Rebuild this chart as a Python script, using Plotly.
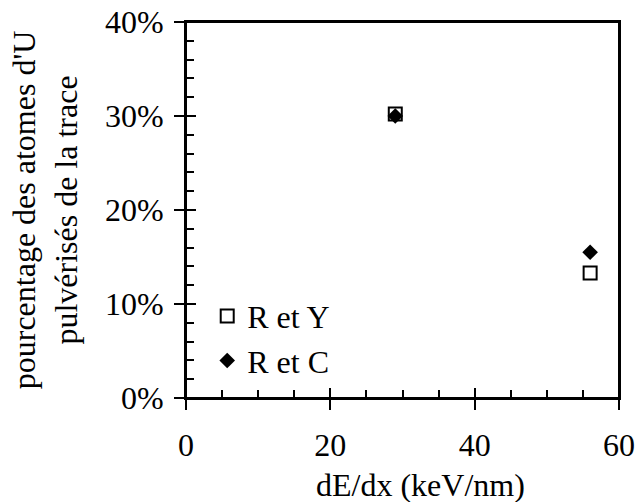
import plotly.graph_objects as go

x_vals = [29, 56]
r_et_y = [0.302, 0.133]
r_et_c = [0.300, 0.155]
series_names = ["R et Y", "R et C"]
x_ticks = [0, 20, 40, 60]
y_ticks = [0, 0.1, 0.2, 0.3, 0.4]
y_tick_labels = ["0%", "10%", "20%", "30%", "40%"]

FONT = "Liberation Serif, Times New Roman, serif"
FS = 32

fig = go.Figure()
fig.add_trace(go.Scatter(
    x=x_vals, y=r_et_y, mode="markers", name=series_names[0],
    marker=dict(symbol="square-open", size=13, color="black", line=dict(width=2, color="black")),
    legendgroup="a"))
fig.add_trace(go.Scatter(
    x=x_vals, y=r_et_c, mode="markers", name=series_names[1],
    marker=dict(symbol="diamond", size=12, color="black"),
    legendgroup="b"))
# invisible trace on overlay axes for inside part of major ticks
fig.add_trace(go.Scatter(x=[None], y=[None], xaxis="x2", yaxis="y2", showlegend=False, hoverinfo="skip"))

axis_common = dict(showgrid=False, zeroline=False, showline=True, linecolor="black", linewidth=2,
                   mirror=True, tickcolor="black", tickwidth=2, ticks="outside", ticklen=10,
                   automargin=False, ticklabeloverflow="allow",
                   tickfont=dict(family=FONT, size=FS, color="black"))

fig.update_layout(
    width=643, height=502,
    margin=dict(l=186, r=24, t=22, b=104),
    paper_bgcolor="white", plot_bgcolor="white",
    font=dict(family=FONT, size=FS, color="black"),
    xaxis=dict(range=[0, 60], tickvals=x_ticks, ticktext=[str(v) for v in x_ticks],
               minor=dict(ticks="inside", dtick=5, ticklen=8, tickwidth=2, tickcolor="black"),
               ticklabelstandoff=8,
               **axis_common),
    yaxis=dict(range=[0, 0.4], tickvals=y_ticks, ticktext=y_tick_labels,
               minor=dict(ticks="inside", dtick=0.02, ticklen=8, tickwidth=2, tickcolor="black"),
               ticklabelstandoff=4,
               title=dict(text="pourcentage des atomes d'U<br>pulvérisés de la trace",
                          font=dict(family=FONT, size=FS, color="black"), standoff=18),
               **axis_common),
    xaxis2=dict(overlaying="x", range=[0, 60], tickvals=x_ticks, showticklabels=False, ticks="inside",
                ticklen=10, tickwidth=2, tickcolor="black", showgrid=False, zeroline=False, showline=False,
                automargin=False),
    yaxis2=dict(overlaying="y", range=[0, 0.4], tickvals=y_ticks, showticklabels=False, ticks="inside",
                ticklen=10, tickwidth=2, tickcolor="black", showgrid=False, zeroline=False, showline=False,
                automargin=False),
    legend=dict(x=0.049, y=0.291, xanchor="left", yanchor="top", bgcolor="rgba(0,0,0,0)",
                font=dict(family=FONT, size=FS, color="black"), tracegroupgap=0),
    showlegend=True,
    shapes=[dict(type="rect", xref="paper", yref="paper", x0=0, x1=1, y0=0, y1=1,
                 line=dict(color="black", width=2), fillcolor="rgba(0,0,0,0)", layer="above")],
    annotations=[dict(text="dE/dx (keV/nm)", xref="paper", yref="paper", x=(420 - 186) / 433, y=-0.178,
                      xanchor="center", yanchor="top", showarrow=False,
                      font=dict(family=FONT, size=FS, color="black"))],
)

fig.write_html("out.html", config={"displayModeBar": False},
               post_script="document.body.style.margin='0';")
